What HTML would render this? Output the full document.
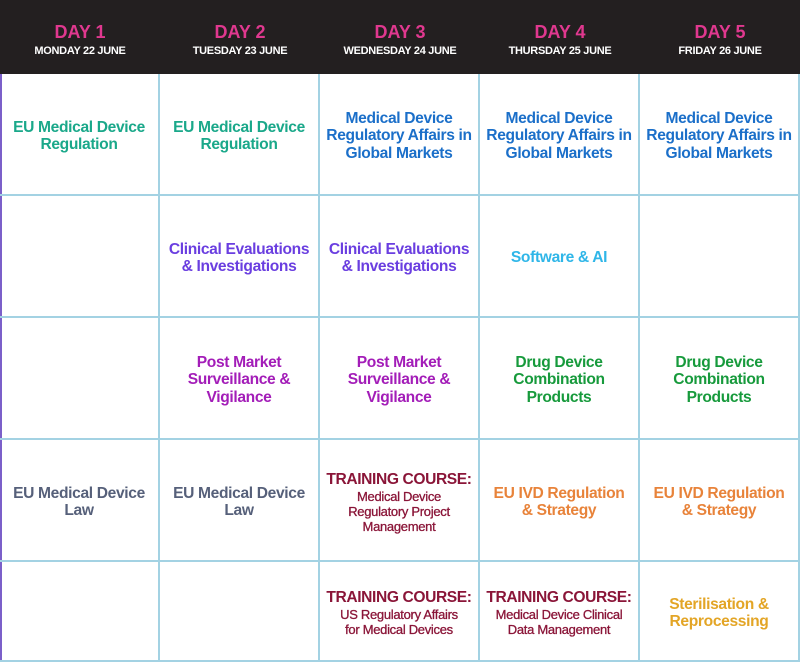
<!DOCTYPE html>
<html><head><style>
*{margin:0;padding:0;box-sizing:border-box}
body{width:800px;height:662px;background:#fff;font-family:"Liberation Sans",Arial,sans-serif;position:relative;overflow:hidden}
.hd{position:absolute;left:0;top:0;width:800px;height:74px;background:#231f20}
.h{position:absolute;top:0;width:160px;height:74px;text-align:center}
.h b{display:block;color:#e0388f;font-size:18px;margin-top:22px;line-height:20px}
.h i{display:block;font-style:normal;color:#fff;font-size:11px;font-weight:bold;margin-top:3px;letter-spacing:-0.3px}
.c{position:absolute;width:160px;height:122px;border-right:2px solid #a3d2e3;border-bottom:2px solid #a3d2e3;display:flex;align-items:center;justify-content:center;text-align:center;font-weight:bold;font-size:15.6px;line-height:17.5px;letter-spacing:-0.35px;white-space:nowrap;padding-top:4px}
.t{color:#8a1538}
.t s{text-decoration:none;display:block;font-size:15.6px;line-height:18px;letter-spacing:-0.4px}
.t span{display:block;font-size:13px;line-height:15px;font-weight:normal;letter-spacing:-0.3px;-webkit-text-stroke:0.3px #8a1538}
</style></head><body>
<div class="hd"></div>
<div class="h" style="left:0"><b>DAY 1</b><i>MONDAY 22 JUNE</i></div>
<div class="h" style="left:160px"><b>DAY 2</b><i>TUESDAY 23 JUNE</i></div>
<div class="h" style="left:320px"><b>DAY 3</b><i>WEDNESDAY 24 JUNE</i></div>
<div class="h" style="left:480px"><b>DAY 4</b><i>THURSDAY 25 JUNE</i></div>
<div class="h" style="left:640px"><b>DAY 5</b><i>FRIDAY 26 JUNE</i></div>
<div style="position:absolute;left:0;top:74px;width:2px;height:588px;background:#7b5fc9"></div>

<div class="c" style="left:0;top:74px;color:#1aa88a">EU Medical Device<br>Regulation</div>
<div class="c" style="left:160px;top:74px;color:#1aa88a">EU Medical Device<br>Regulation</div>
<div class="c" style="left:320px;top:74px;color:#1b6fc9">Medical Device<br>Regulatory Affairs in<br>Global Markets</div>
<div class="c" style="left:480px;top:74px;color:#1b6fc9">Medical Device<br>Regulatory Affairs in<br>Global Markets</div>
<div class="c" style="left:640px;top:74px;color:#1b6fc9">Medical Device<br>Regulatory Affairs in<br>Global Markets</div>

<div class="c" style="left:0;top:196px"></div>
<div class="c" style="left:160px;top:196px;color:#6a3ee0">Clinical Evaluations<br>&amp; Investigations</div>
<div class="c" style="left:320px;top:196px;color:#6a3ee0">Clinical Evaluations<br>&amp; Investigations</div>
<div class="c" style="left:480px;top:196px;color:#2fb6e8">Software &amp; AI</div>
<div class="c" style="left:640px;top:196px"></div>

<div class="c" style="left:0;top:318px"></div>
<div class="c" style="left:160px;top:318px;color:#a31db8">Post Market<br>Surveillance &amp;<br>Vigilance</div>
<div class="c" style="left:320px;top:318px;color:#a31db8">Post Market<br>Surveillance &amp;<br>Vigilance</div>
<div class="c" style="left:480px;top:318px;color:#179a3c">Drug Device<br>Combination<br>Products</div>
<div class="c" style="left:640px;top:318px;color:#179a3c">Drug Device<br>Combination<br>Products</div>

<div class="c" style="left:0;top:440px;color:#56607a">EU Medical Device<br>Law</div>
<div class="c" style="left:160px;top:440px;color:#56607a">EU Medical Device<br>Law</div>
<div class="c t" style="left:320px;top:440px"><div><s>TRAINING COURSE:</s><span>Medical Device<br>Regulatory Project<br>Management</span></div></div>
<div class="c" style="left:480px;top:440px;color:#e8833a">EU IVD Regulation<br>&amp; Strategy</div>
<div class="c" style="left:640px;top:440px;color:#e8833a">EU IVD Regulation<br>&amp; Strategy</div>

<div class="c" style="left:0;top:562px;height:100px"></div>
<div class="c" style="left:160px;top:562px;height:100px"></div>
<div class="c t" style="left:320px;top:562px;height:100px"><div><s>TRAINING COURSE:</s><span>US Regulatory Affairs<br>for Medical Devices</span></div></div>
<div class="c t" style="left:480px;top:562px;height:100px"><div><s>TRAINING COURSE:</s><span>Medical Device Clinical<br>Data Management</span></div></div>
<div class="c" style="left:640px;top:562px;height:100px;color:#e3a526">Sterilisation &amp;<br>Reprocessing</div>
</body></html>
